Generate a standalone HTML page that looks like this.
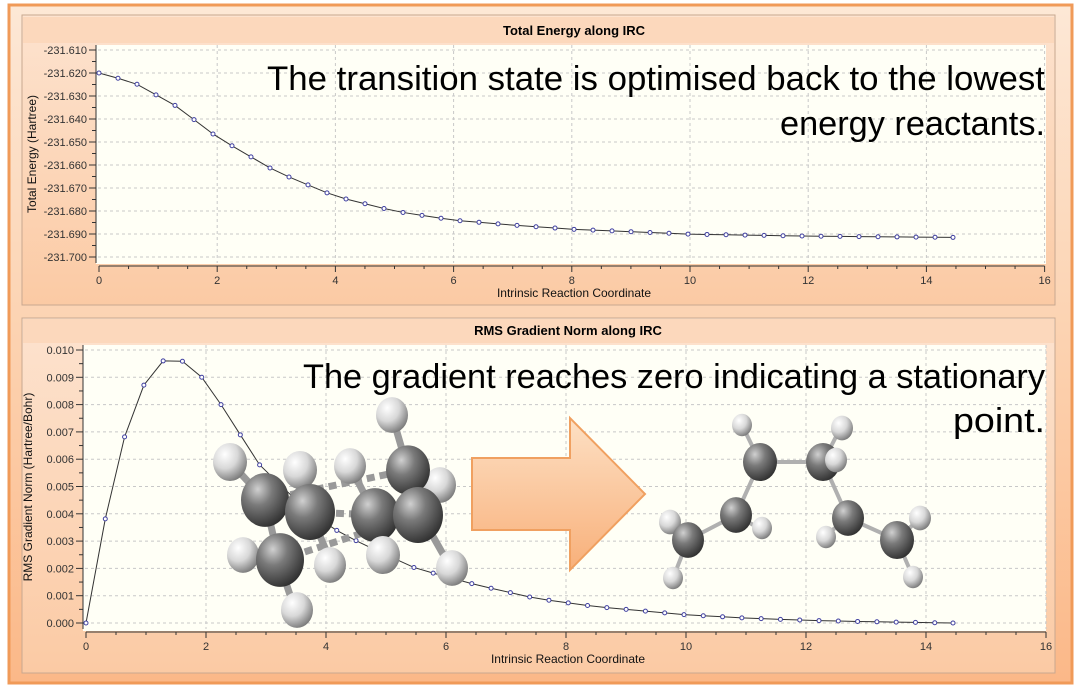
<!DOCTYPE html>
<html><head><meta charset="utf-8">
<style>
html,body{margin:0;padding:0;background:#fff;}
svg{display:block;font-family:"Liberation Sans",Arial,sans-serif;}
</style></head><body>
<svg id="s" width="1081" height="693" viewBox="0 0 1081 693" xmlns="http://www.w3.org/2000/svg">
<defs>
<linearGradient id="bg" x1="0" y1="0" x2="0" y2="1">
<stop offset="0" stop-color="#fde8d6"/><stop offset="0.5" stop-color="#fcd2b0"/><stop offset="1" stop-color="#fbb888"/></linearGradient>
<linearGradient id="pn" x1="0" y1="0" x2="0" y2="1">
<stop offset="0" stop-color="#fde3cf"/><stop offset="1" stop-color="#fbcaa4"/></linearGradient>
<linearGradient id="ar" x1="0" y1="0" x2="0" y2="1">
<stop offset="0" stop-color="#fde0c4"/><stop offset="1" stop-color="#f8b07a"/></linearGradient>
<radialGradient id="C" cx="0.35" cy="0.3" r="0.75">
<stop offset="0" stop-color="#d0d0d0"/><stop offset="0.4" stop-color="#7a7a7a"/><stop offset="1" stop-color="#2e2e2e"/></radialGradient>
<radialGradient id="H" cx="0.35" cy="0.3" r="0.75">
<stop offset="0" stop-color="#ffffff"/><stop offset="0.5" stop-color="#d8d8d8"/><stop offset="1" stop-color="#777"/></radialGradient>
</defs>
<rect x="9" y="5" width="1063" height="678" fill="url(#bg)" stroke="#f09a58" stroke-width="3"/>
<rect x="22" y="15" width="1033" height="290" fill="url(#pn)" stroke="#c8a890" stroke-width="1"/>
<rect x="23" y="17" width="1031" height="26" fill="#fcd8bc"/>
<text x="574" y="35" font-size="13" font-weight="bold" text-anchor="middle">Total Energy along IRC</text>
<rect x="96" y="45" width="950" height="219" fill="#fffff6"/>
<g id="g1"></g>
<rect x="22" y="318" width="1033" height="355" fill="url(#pn)" stroke="#c8a890" stroke-width="1"/>
<rect x="23" y="319" width="1031" height="24" fill="#fcd8bc"/>
<text x="568" y="335" font-size="13" font-weight="bold" text-anchor="middle">RMS Gradient Norm along IRC</text>
<rect x="83" y="345" width="963" height="286" fill="#fffff6"/>
<g id="g2"></g>
<text x="1045" y="90" font-size="34" text-anchor="end" textLength="778" lengthAdjust="spacingAndGlyphs">The transition state is optimised back to the lowest</text>
<text x="1045" y="135" font-size="34" text-anchor="end" textLength="265" lengthAdjust="spacingAndGlyphs">energy reactants.</text>
<text x="1045" y="388" font-size="34" text-anchor="end" textLength="742" lengthAdjust="spacingAndGlyphs">The gradient reaches zero indicating a stationary</text>
<text x="1045" y="432" font-size="34" text-anchor="end" textLength="92" lengthAdjust="spacingAndGlyphs">point.</text>
<path d="M472 458 L570 458 L570 418 L645 494 L570 570 L570 530 L472 530 Z" fill="url(#ar)" stroke="#f0a060" stroke-width="2"/>
<g id="mol"></g>
</svg>
<script>
const NS="http://www.w3.org/2000/svg";
function el(p,t,a,txt){const e=document.createElementNS(NS,t);for(const k in a)e.setAttribute(k,a[k]);if(txt!==undefined)e.textContent=txt;p.appendChild(e);return e;}
function interp(xs,ys,x){for(let i=0;i<xs.length-1;i++){if(x<=xs[i+1]){const t=(x-xs[i])/(xs[i+1]-xs[i]);return ys[i]+t*(ys[i+1]-ys[i]);}}return ys[ys.length-1];}
function chart(g,o){
 const X=v=>o.x0+v*o.xs, Y=v=>o.y0-(v-o.ymin)*o.ys;
 for(let v=2;v<=16;v+=2) el(g,'line',{x1:X(v),x2:X(v),y1:o.top,y2:o.bot,stroke:'#c8c8c8','stroke-dasharray':'3,3'});
 for(let i=0;i<=o.ny;i++){const v=o.ymin+i*o.ystep;el(g,'line',{x1:o.left,x2:o.right,y1:Y(v),y2:Y(v),stroke:'#c8c8c8','stroke-dasharray':'3,3'});}
 el(g,'line',{x1:o.left-2,x2:o.left-2,y1:o.top,y2:o.bot,stroke:'#333'});
 for(let i=0;i<=o.ny*2;i++){const v=o.ymin+i*o.ystep/2;el(g,'line',{x1:o.left-2-(i%2?4:7),x2:o.left-2,y1:Y(v),y2:Y(v),stroke:'#333'});}
 for(let i=0;i<=o.ny;i++){const v=o.ymin+i*o.ystep;el(g,'text',{x:o.left-11,y:Y(v)+4,'font-size':11,'text-anchor':'end',fill:'#333'},o.fmt(v));}
 const ay=o.bot+3;
 el(g,'line',{x1:X(0),x2:X(16),y1:ay,y2:ay,stroke:'#333'});
 for(let i=0;i<=32;i++){el(g,'line',{x1:X(i/2),x2:X(i/2),y1:ay,y2:ay+(i%4?3:6),stroke:'#333'});}
 for(let v=0;v<=16;v+=2) el(g,'text',{x:X(v),y:ay+18,'font-size':11,'text-anchor':'middle',fill:'#333'},v);
 el(g,'text',{x:o.xlx,y:ay+31,'font-size':12,'text-anchor':'middle',fill:'#111'},'Intrinsic Reaction Coordinate');
 el(g,'text',{x:0,y:0,'font-size':12,'text-anchor':'middle',fill:'#111',transform:`translate(${o.ylx},${(o.top+o.bot)/2}) rotate(-90)`},o.ylab);
 let pts=[];for(let i=0;i<46;i++){const x=Math.min(i*0.3215,14.45);pts.push([X(x),Y(o.f(x))]);}
 el(g,'polyline',{points:pts.map(p=>p.join(',')).join(' '),fill:'none',stroke:'#333','stroke-width':1});
 pts.forEach(p=>el(g,'circle',{cx:p[0],cy:p[1],r:2,fill:'#fff',stroke:'#4040a0','stroke-width':1}));
}
chart(document.getElementById('g1'),{x0:99,xs:59.1,y0:257,ymin:-231.700,ys:2300,ystep:0.01,ny:9,
 left:98,right:1046,top:45,bot:263,xlx:574,ylx:36,ylab:'Total Energy (Hartree)',
 fmt:v=>v.toFixed(3),
 f:x=>-231.6915+0.0715*interp([0,0.6,1.3,2,3,4,5,6,7,8,10,12,14.5],[1,0.94,0.8,0.61,0.4,0.25,0.16,0.105,0.075,0.05,0.02,0.008,0],x)});
chart(document.getElementById('g2'),{x0:86,xs:60,y0:623,ymin:0,ys:27300,ystep:0.001,ny:10,
 left:85,right:1046,top:345,bot:629,xlx:568,ylx:32,ylab:'RMS Gradient Norm (Hartree/Bohr)',
 fmt:v=>v.toFixed(3),
 f:x=>interp([0,0.32,0.64,0.96,1.28,1.6,1.93,2.25,2.57,2.89,3.5,4,4.6,5.5,6.5,7.5,8.5,10,11,12,13,14.45],
 [0,0.0038,0.0068,0.0087,0.0096,0.0096,0.0090,0.0080,0.0069,0.0058,0.0045,0.0036,0.0029,0.0020,0.0014,0.0009,0.0006,0.0003,0.00018,0.0001,0.00005,0],x)});
const m=document.getElementById('mol');
function bond(x1,y1,x2,y2,d,w,c){el(m,'line',{x1,y1,x2,y2,stroke:c||'#999','stroke-width':w||7,'stroke-dasharray':d||'none'});}
function at(x,y,r,t){el(m,'ellipse',{cx:x,cy:y,rx:r,ry:r*1.12,fill:t=='C'?'url(#C)':'url(#H)'});}
[[265,500,230,462],[310,512,305,470],[265,500,280,565],[280,565,255,555],[280,565,295,610],[310,512,330,560],[375,515,350,466],[375,515,383,562],[418,510,410,472],[418,510,452,570],[408,470,392,415],[408,470,440,485]].forEach(b=>bond(...b));
bond(310,512,375,515,'8,5');bond(280,560,418,515,'8,5');bond(265,500,408,470,'8,5');
at(230,462,17,'H');at(300,470,17,'H');at(350,466,16,'H');at(392,415,16,'H');at(440,485,16,'H');
at(408,470,22,'C');at(265,500,24,'C');at(310,512,25,'C');at(375,515,24,'C');at(418,515,25,'C');
at(243,555,16,'H');at(330,565,16,'H');at(383,555,17,'H');at(452,568,16,'H');
at(280,560,24,'C');at(297,610,16,'H');
[[688,540,736,515],[736,515,760,462],[760,462,823,462],[823,462,848,518],[848,518,897,540],[688,540,672,528],[688,540,673,578],[736,515,762,530],[760,462,742,425],[760,462,748,472],[823,462,842,425],[823,462,836,462],[848,518,826,535],[897,540,920,518],[897,540,913,577]].forEach(b=>bond(b[0],b[1],b[2],b[3],null,4,'#b0b0b0'));
at(742,425,10,'H');at(842,428,11,'H');at(670,522,11,'H');at(762,528,10,'H');at(826,537,10,'H');at(920,518,11,'H');
at(760,462,17,'C');at(823,462,17,'C');at(736,515,16,'C');at(848,518,16,'C');at(688,540,16,'C');at(897,540,17,'C');
at(836,460,11,'H');at(673,578,10,'H');at(913,577,10,'H');
</script>
</body></html>
